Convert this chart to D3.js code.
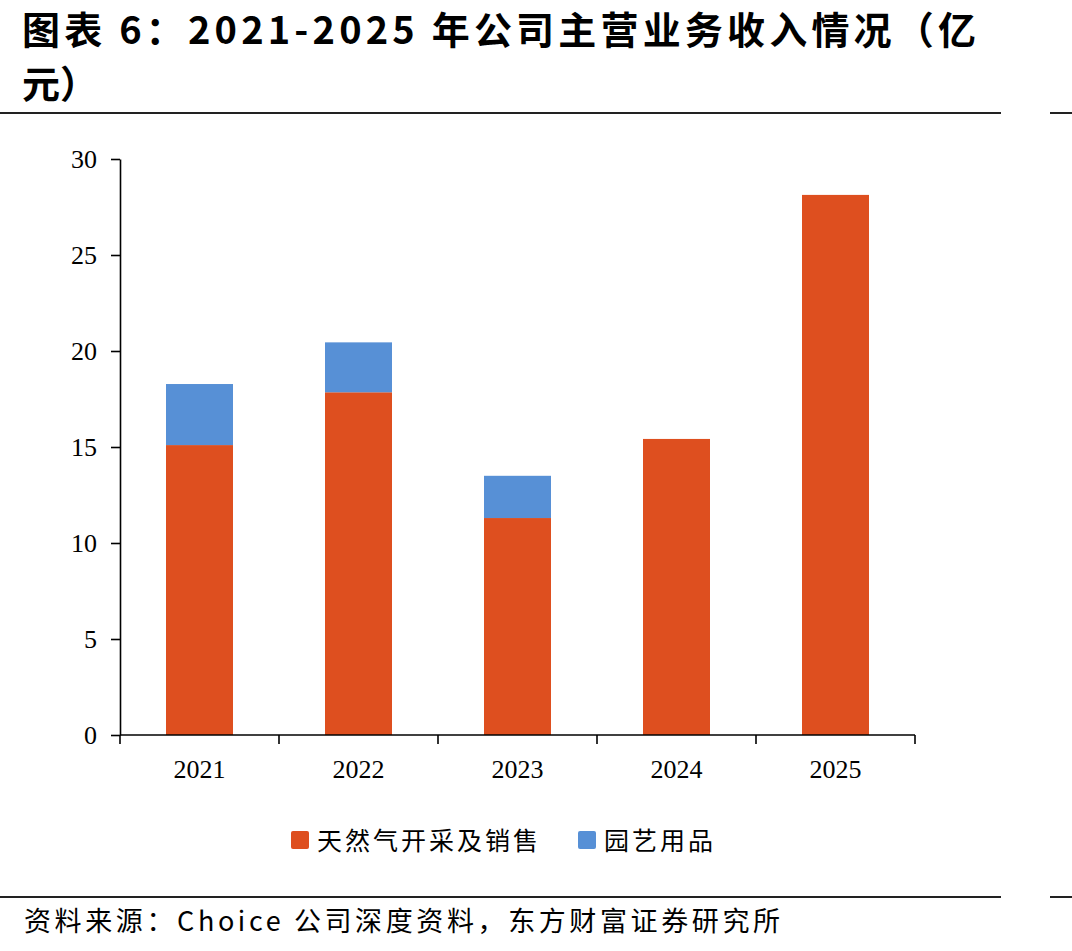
<!DOCTYPE html>
<meta charset="utf-8">
<title>主营业务收入</title>
<script src="https://cdn.jsdelivr.net/npm/d3@7"></script>
<style>
  html,body{margin:0;background:#fff}
  svg{display:block}
  .title{font:bold 38px "Noto Sans CJK SC",sans-serif;fill:#000}
  .axis text{font:26px "Liberation Serif",serif;fill:#000}
  .axis path,.axis line{stroke:#000;stroke-width:1.6}
  .legend text{font:25px "Noto Sans CJK SC",serif;fill:#000;letter-spacing:3px}
  .source{font:27px "Noto Sans CJK SC",sans-serif;fill:#000}
</style>
<svg width="1072" height="951"></svg>
<script>
// data (亿元)
const years   = ['2021','2022','2023','2024','2025'];
const gasVals = [15.1, 17.85, 11.3, 15.42, 28.13];   // 天然气开采及销售
const hortVals= [3.18, 2.6, 2.2, 0, 0];              // 园艺用品
const seriesNames = ['天然气开采及销售','园艺用品'];
const colors  = ['#DE4F1F','#5790D6'];
const yTicks  = [0,5,10,15,20,25,30];

const svg = d3.select('svg');

/* title */
svg.append('text').attr('class','title').attr('x',22).attr('y',44)
   .attr('textLength',954).attr('lengthAdjust','spacing')
   .text('图表 6：2021-2025 年公司主营业务收入情况（亿');
svg.append('text').attr('class','title').attr('x',22).attr('y',98).text('元）');
svg.append('line').attr('x1',0).attr('x2',1001).attr('y1',113).attr('y2',113)
   .attr('stroke','#222').attr('stroke-width',2);
svg.append('line').attr('x1',1050).attr('x2',1072).attr('y1',113).attr('y2',113)
   .attr('stroke','#222').attr('stroke-width',2);

/* scales */
const x = d3.scaleBand().domain(years).range([120,915]).paddingInner(0).paddingOuter(0);
const y = d3.scaleLinear().domain([0,30]).range([735,159]);

const rows = years.map((yr,i)=>({year:yr, gas:gasVals[i], hort:hortVals[i]}));
const stack = d3.stack().keys(['gas','hort'])(rows);

const barW = 67;
svg.append('g').selectAll('g')
  .data(stack).join('g')
  .attr('fill',(d,i)=>colors[i])
  .selectAll('rect')
  .data(d=>d.filter(p=>p[1]-p[0]>0))
  .join('rect')
  .attr('x',d=>x(d.data.year)+x.bandwidth()/2-barW/2)
  .attr('width',barW)
  .attr('y',d=>y(d[1]))
  .attr('height',d=>y(d[0])-y(d[1]));

/* axes */
svg.append('g').attr('class','axis')
  .attr('transform','translate(120,0)')
  .call(d3.axisLeft(y).tickValues(yTicks).tickSize(9).tickSizeOuter(0).tickPadding(14))
  .call(g=>g.selectAll('text').attr('dy','0.33em'));

const xa = svg.append('g').attr('class','axis').attr('transform','translate(0,735)');
xa.append('line').attr('x1',120).attr('x2',915);
xa.selectAll('line.tk').data(years.concat(['end'])).join('line').attr('class','tk')
  .attr('x1',(d,i)=>120+i*x.bandwidth()).attr('x2',(d,i)=>120+i*x.bandwidth())
  .attr('y1',0).attr('y2',9);
xa.selectAll('text').data(years).join('text')
  .attr('x',d=>x(d)+x.bandwidth()/2).attr('y',43)
  .attr('text-anchor','middle').text(d=>d);

/* legend */
const leg = svg.append('g').attr('class','legend');
const legX = [291, 578];
seriesNames.forEach((n,i)=>{
  leg.append('rect').attr('x',legX[i]).attr('y',831).attr('width',18).attr('height',18)
     .attr('rx',2).attr('fill',colors[i]);
  leg.append('text').attr('x',legX[i]+26).attr('y',850).text(n);
});

/* source */
svg.append('line').attr('x1',0).attr('x2',1001).attr('y1',897).attr('y2',897)
   .attr('stroke','#222').attr('stroke-width',2);
svg.append('line').attr('x1',1050).attr('x2',1072).attr('y1',897).attr('y2',897)
   .attr('stroke','#222').attr('stroke-width',2);
svg.append('text').attr('class','source').attr('x',24).attr('y',931)
   .attr('textLength',756).attr('lengthAdjust','spacing')
   .text('资料来源：Choice 公司深度资料，东方财富证券研究所');
</script>
